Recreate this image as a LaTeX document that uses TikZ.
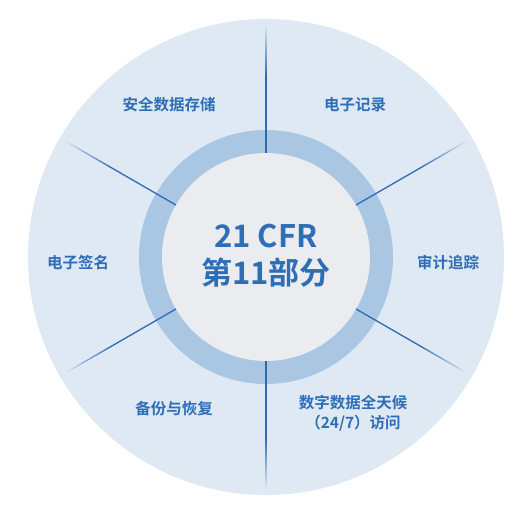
\documentclass[tikz,border=0pt]{standalone}
\usepackage{fontspec}
\usetikzlibrary{calc}
\setmainfont{Noto Sans CJK SC}[BoldFont={Noto Sans CJK SC Bold}]
\definecolor{outerbg}{RGB}{222,233,244}
\definecolor{ringc}{RGB}{169,198,227}
\definecolor{innerc}{RGB}{235,236,239}
\definecolor{txtc}{RGB}{46,110,183}
\definecolor{spokec}{RGB}{45,105,180}
\tikzset{
  lbl/.style={text=txtc, font=\bfseries\fontsize{15.5}{20}\selectfont, align=center, inner sep=0pt},
  ctr/.style={text=txtc, font=\bfseries\fontsize{31}{37}\selectfont, align=center, inner sep=0pt},
  spoke/.style={draw=spokec, line width=1.3pt}
}
\begin{document}
\begin{tikzpicture}[x=1pt,y=-1pt]
\useasboundingbox (0,0) rectangle (525,505);
\coordinate (c) at (266,257);
\fill[outerbg] (c) circle (238);
\fill[ringc] (c) circle (127);
\fill[innerc] (c) circle (104);
\foreach \a in {90,30,-30,-90,210,150} {
  \draw[spoke] ($(c)+(\a:104)$) -- ($(c)+(\a:180)$);
  \foreach \i in {0,...,19} {
    \pgfmathsetmacro{\ra}{180+\i*2.6}
    \pgfmathsetmacro{\rb}{180+(\i+1)*2.6}
    \pgfmathsetmacro{\op}{1-(\i+0.5)/20}
    \draw[spoke, draw opacity=\op] ($(c)+(\a:\ra)$) -- ($(c)+(\a:\rb)$);
  }
}
\node[ctr] (center) at (266,256) {21 CFR\\第11部分};
\node[lbl] (storage) at (169,105) {安全数据存储};
\node[lbl] (records) at (355,105) {电子记录};
\node[lbl] (sign) at (78,263) {电子签名};
\node[lbl] (audit) at (448,263) {审计追踪};
\node[lbl] (backup) at (174,409) {备份与恢复};
\node[lbl] (access) at (353,413) {数字数据全天候\\（24/7）访问};
\end{tikzpicture}
\end{document}
